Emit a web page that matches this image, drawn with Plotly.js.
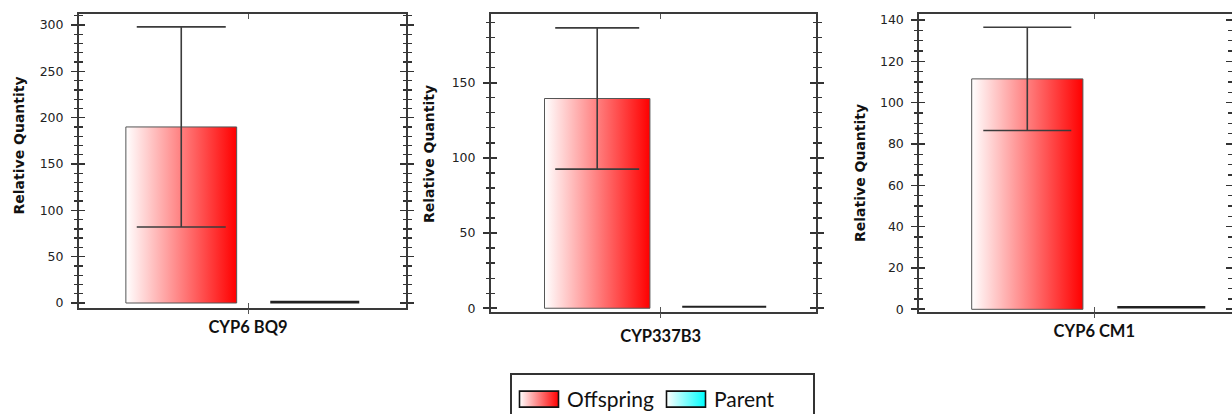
<!DOCTYPE html>
<html>
<head>
<meta charset="utf-8">
<script src="https://cdn.plot.ly/plotly-3.0.1.min.js"></script>
<style>
  html, body { margin: 0; padding: 0; background: #ffffff; }
  #chart { width: 1232px; height: 414px; }
</style>
</head>
<body>
<div id="chart"></div>
<script>
// Gene expression: mean relative quantity with standard deviation
const genes = ['CYP6 BQ9', 'CYP337B3', 'CYP6 CM1'];
const offspringMean = [190, 139.5, 111.5];
const offspringSD = [108, 47, 25];
const parentMean = [1, 1, 1];
const parentSD = [0.6, 0.2, 0.2];
const seriesNames = ['Offspring', 'Parent'];
const yTitle = 'Relative Quantity';

const W = 1232, H = 414;
const AXIS = '#3a3a3a';
const LEGEND_TOP = 355, LEGEND_DROP = 18;

// panel geometry in pixels
const panels = [
  { left: 79,    right: 406,    top: 14, bottom: 308,   xr: [-0.5064, 0.4734], yr: [-5.4, 311.9], dtick: 50, minor: 10, capw: 44.5, std: 3, ylab: [18.5, 146] },
  { left: 491,   right: 816,    top: 14, bottom: 312,   xr: [-0.5345, 0.4891], yr: [-2.5, 195.7], dtick: 50, minor: 10, capw: 42,   std: 8, ylab: [429, 154] },
  { left: 919.3, right: 1231.5, top: 14, bottom: 312.3, xr: [-0.5224, 0.4096], yr: [-1.45, 142.9], dtick: 20, minor: 5, capw: 44,   std: 3, ylab: [860, 173] }
];

const data = [];
const layout = {
  width: W, height: H,
  margin: { l: 0, r: 0, t: 0, b: 0 },
  paper_bgcolor: '#ffffff',
  plot_bgcolor: '#ffffff',
  font: { family: 'DejaVu Sans, Verdana, sans-serif', size: 12, color: '#222222' },
  barmode: 'group',
  bargap: 0.2,
  bargroupgap: 0.17,
  showlegend: true,
  legend: {
    orientation: 'h',
    x: 510 / W, y: 1 - LEGEND_TOP / H, xanchor: 'left', yanchor: 'top',
    bgcolor: '#ffffff', bordercolor: '#333333', borderwidth: 2,
    font: { family: 'Lato, sans-serif', size: 21, color: '#111111' },
    itemwidth: 45, entrywidth: 87,
    traceorder: 'normal'
  },
  annotations: []
};

panels.forEach((p, i) => {
  const n = i + 1;
  const xs = n === 1 ? '' : String(n);
  const xa = 'x' + xs, ya = 'y' + xs;
  const os = String(n + 3);

  data.push({
    type: 'bar', name: seriesNames[0], legendgroup: 'off', showlegend: i === 0,
    x: [genes[i]], y: [offspringMean[i]], xaxis: xa, yaxis: ya,
    marker: { color: '#ff0000', line: { color: '#555555', width: 1 } },
    error_y: { type: 'data', array: [offspringSD[i]], visible: true, color: '#3c3c3c', thickness: 1.6, width: p.capw }
  });
  data.push({
    type: 'bar', name: seriesNames[1], legendgroup: 'par', showlegend: i === 0,
    x: [genes[i]], y: [parentMean[i]], xaxis: xa, yaxis: ya,
    marker: { color: '#00ffff', opacity: 0, line: { color: '#555555', width: 0 } },
    error_y: { type: 'data', array: [parentSD[i]], visible: true, color: '#222222', thickness: 1.6, width: p.capw }
  });
  // empty trace so the overlay axes carrying the inner tick marks are drawn
  data.push({
    type: 'scatter', mode: 'markers', x: [], y: [], xaxis: 'x' + os, yaxis: 'y' + os,
    showlegend: false, hoverinfo: 'skip'
  });

  const xd = [p.left / W, p.right / W];
  const yd = [1 - p.bottom / H, 1 - p.top / H];

  layout['xaxis' + xs] = {
    domain: xd, anchor: ya, type: 'category', range: p.xr,
    showline: true, linecolor: AXIS, linewidth: 2, mirror: 'ticks',
    ticks: 'inside', ticklen: 5, tickwidth: 1, tickcolor: '#555555',
    showgrid: false, zeroline: false, fixedrange: true,
    tickfont: { family: 'Lato, sans-serif', size: 16.5, color: '#111111', weight: 'bold' },
    ticklabelstandoff: p.std
  };
  layout['yaxis' + xs] = {
    domain: yd, anchor: xa, range: p.yr,
    showline: true, linecolor: AXIS, linewidth: 2, mirror: 'ticks',
    ticks: 'outside', ticklen: 6, tickwidth: 1.6, tickcolor: '#333333',
    dtick: p.dtick, tick0: 0,
    minor: { ticks: 'outside', ticklen: 3.5, tickwidth: 1.3, tickcolor: '#333333', dtick: p.minor, tick0: 0, showgrid: false },
    showgrid: false, zeroline: false, fixedrange: true,
    tickfont: { family: 'DejaVu Sans, Verdana, sans-serif', size: 12.5, color: '#222222' },
    ticklabelstandoff: 5
  };
  // inner half of the crossing tick marks
  layout['yaxis' + os] = {
    overlaying: ya, anchor: 'x' + os, range: p.yr, side: 'left',
    showline: false, mirror: 'ticks',
    ticks: 'inside', ticklen: 6, tickwidth: 1.6, tickcolor: '#333333',
    dtick: p.dtick, tick0: 0,
    minor: { ticks: 'inside', ticklen: 3.5, tickwidth: 1.3, tickcolor: '#333333', dtick: p.minor, tick0: 0, showgrid: false },
    showticklabels: false, showgrid: false, zeroline: false, fixedrange: true
  };
  layout['xaxis' + os] = {
    overlaying: xa, anchor: 'y' + os, range: p.xr, type: 'linear',
    tickmode: 'array', tickvals: [0], ticktext: [''],
    showline: false, ticks: 'outside', ticklen: 5, tickwidth: 1, tickcolor: '#555555',
    showticklabels: false, showgrid: false, zeroline: false, fixedrange: true
  };

  layout.annotations.push({
    xref: 'paper', yref: 'paper', x: p.ylab[0] / W, y: 1 - p.ylab[1] / H,
    xanchor: 'center', yanchor: 'middle', textangle: -90, showarrow: false,
    text: yTitle,
    font: { family: 'DejaVu Sans, Verdana, sans-serif', size: 14, color: '#111111', weight: 'bold' }
  });
});

// white-to-colour horizontal fills for bars and legend swatches
function applyGradients(gd) {
  const ns = 'http://www.w3.org/2000/svg';
  const svg = gd.querySelector('svg.main-svg');
  let defs = svg.querySelector('defs');
  if (!defs) { defs = document.createElementNS(ns, 'defs'); svg.insertBefore(defs, svg.firstChild); }
  function makeGrad(id, color) {
    const g = document.createElementNS(ns, 'linearGradient');
    g.setAttribute('id', id);
    g.setAttribute('x1', '0'); g.setAttribute('y1', '0');
    g.setAttribute('x2', '1'); g.setAttribute('y2', '0');
    [['0', '#ffffff'], ['1', color]].forEach(([o, c]) => {
      const s = document.createElementNS(ns, 'stop');
      s.setAttribute('offset', o); s.setAttribute('stop-color', c);
      g.appendChild(s);
    });
    defs.appendChild(g);
  }
  makeGrad('fillOffspring', '#ff0000');
  makeGrad('fillParent', '#00ffff');

  const pick = f => f.indexOf('255, 0, 0') >= 0 ? 'url(#fillOffspring)'
                  : f.indexOf('0, 255, 255') >= 0 ? 'url(#fillParent)' : null;

  gd.querySelectorAll('.barlayer .point path').forEach(p => {
    const u = pick(p.style.fill || '');
    if (u) p.style.fill = u;
  });
  gd.querySelectorAll('.legend .legendpoints path').forEach(p => {
    const u = pick(p.style.fill || '');
    if (u) {
      p.setAttribute('d', 'M-20,-8H19V8H-20Z');
      p.style.fill = u;
      p.style.opacity = '1';
      p.style.fillOpacity = '1';
      p.style.stroke = '#111111';
      p.style.strokeWidth = '1.6px';
      p.style.strokeOpacity = '1';
    }
  });
  const leg = gd.querySelector('g.legend');
  if (!leg) return;
  const bg = leg.querySelector('.bg');
  if (bg) {
    bg.setAttribute('width', '303');
    bg.setAttribute('height', '60');
  }
  // entries sit a little lower inside the frame
  const box = leg.querySelector('.scrollbox');
  if (box) {
    const t = box.getAttribute('transform') || '';
    box.setAttribute('transform', (t + ' translate(0,4)').trim());
    const cid = box.getAttribute('clip-path');
    const m = cid && cid.match(/#([^)'"]+)/);
    const cr = m && document.getElementById(m[1]);
    const rect = cr && cr.querySelector('rect');
    if (rect) rect.setAttribute('height', '70');
  }
  // the frame runs on past the bottom edge of the figure
  const lt = leg.getAttribute('transform') || '';
  leg.setAttribute('transform', (lt + ' translate(0,' + LEGEND_DROP + ')').trim());
}

Plotly.newPlot('chart', data, layout, { staticPlot: true, displayModeBar: false })
  .then(applyGradients);
</script>
</body>
</html>
